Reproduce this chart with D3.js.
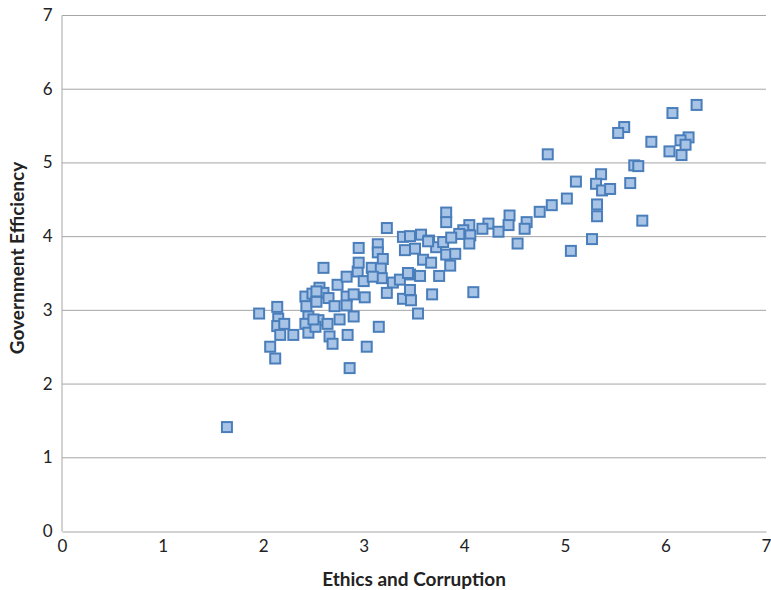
<!DOCTYPE html>
<html>
<head>
<meta charset="utf-8">
<script src="https://cdn.jsdelivr.net/npm/d3@7"></script>
<style>
  body { margin: 0; background: #fff; }
  text { font-family: Lato, "Open Sans", sans-serif; }
</style>
</head>
<body>
<script>
// Data: ethics and corruption (x) vs government efficiency (y)
var ethics = [
  1.64, 1.96, 2.14, 2.15, 2.14, 2.21, 2.17, 2.30, 2.07, 2.12,
  2.42, 2.49, 2.43, 2.45, 2.42, 2.45, 2.55, 2.52, 2.56, 2.60,
  2.53, 2.65, 2.64, 2.66, 2.69, 2.71, 2.76, 2.74, 2.60, 2.83,
  2.83, 2.86, 2.83, 2.90, 2.50, 2.53, 2.94, 2.95, 2.95, 3.14,
  3.14, 3.23, 3.39, 3.46, 3.57, 3.41, 3.51, 3.65, 3.72, 3.79,
  3.19, 3.59, 3.67, 3.82, 3.08, 3.17, 3.00, 3.18, 3.29, 3.36,
  3.46, 3.56, 3.75, 3.23, 3.39, 3.46, 3.68, 2.90, 3.54, 3.15,
  2.84, 3.03, 3.01, 3.09, 3.44, 3.64, 3.47, 3.82, 3.82, 4.45,
  4.62, 4.44, 4.60, 4.53, 4.24, 4.18, 4.34, 4.05, 3.99, 4.06,
  4.05, 3.95, 3.87, 3.91, 3.86, 4.09, 4.83, 4.87, 4.75, 6.31,
  6.07, 5.59, 5.53, 5.86, 6.23, 6.15, 6.20, 6.04, 6.16, 5.69,
  5.73, 5.11, 5.36, 5.31, 5.37, 5.45, 5.65, 5.02, 5.32, 5.32,
  5.77, 5.27, 5.06
];
var efficiency = [
  1.41, 2.95, 3.04, 2.88, 2.78, 2.81, 2.66, 2.66, 2.50, 2.34,
  3.18, 3.22, 3.05, 2.91, 2.81, 2.69, 2.86, 2.77, 3.30, 3.23,
  3.11, 3.16, 2.81, 2.64, 2.54, 3.05, 2.87, 3.34, 3.57, 3.45,
  3.18, 2.21, 3.06, 3.21, 2.87, 3.25, 3.52, 3.64, 3.84, 3.89,
  3.78, 4.11, 3.99, 4.00, 4.02, 3.81, 3.83, 3.94, 3.85, 3.92,
  3.69, 3.68, 3.64, 3.75, 3.57, 3.56, 3.39, 3.43, 3.37, 3.41,
  3.48, 3.46, 3.46, 3.23, 3.15, 3.27, 3.21, 2.91, 2.95, 2.77,
  2.66, 2.50, 3.17, 3.45, 3.50, 3.93, 3.13, 4.32, 4.19, 4.28,
  4.19, 4.15, 4.10, 3.90, 4.17, 4.10, 4.06, 4.15, 4.08, 4.01,
  3.90, 4.03, 3.98, 3.76, 3.60, 3.24, 5.11, 4.42, 4.33, 5.78,
  5.67, 5.48, 5.40, 5.28, 5.34, 5.30, 5.24, 5.15, 5.10, 4.96,
  4.95, 4.74, 4.84, 4.71, 4.62, 4.64, 4.72, 4.51, 4.43, 4.27,
  4.21, 3.96, 3.80
];
var xTicks = [0, 1, 2, 3, 4, 5, 6, 7];
var yTicks = [0, 1, 2, 3, 4, 5, 6, 7];

var data = ethics.map(function(d, i) {
  return { x: d, y: efficiency[i] };
});

// Set the dimensions and margins of the graph
var margin = {top: 15, right: 5, bottom: 59, left: 62},
    width = 771 - margin.left - margin.right,
    height = 590 - margin.top - margin.bottom;

var svg = d3.select("body")
  .append("svg")
    .attr("width", 771)
    .attr("height", 590)
  .append("g")
    .attr("transform", "translate(" + margin.left + "," + margin.top + ")");

var x = d3.scaleLinear().domain([0, 7]).range([0, width]);
var y = d3.scaleLinear().domain([0, 7]).range([height, 0]);

// Horizontal gridlines
svg.append("g")
  .selectAll("line")
  .data(yTicks.slice(1))
  .enter()
  .append("line")
    .attr("x1", 0)
    .attr("x2", width)
    .attr("y1", function(d) { return y(d) + 0.5; })
    .attr("y2", function(d) { return y(d) + 0.5; })
    .attr("stroke", "#a6a6a6")
    .attr("stroke-width", 1);

// X axis
var xAxis = svg.append("g")
  .attr("transform", "translate(0," + (height + 0.5) + ")")
  .call(d3.axisBottom(x).tickValues(xTicks).tickFormat(d3.format("d"))
    .tickSize(0).tickPadding(8));
xAxis.select(".domain").attr("stroke", "#a6a6a6");
xAxis.selectAll("text")
  .style("font-size", "17px")
  .attr("fill", "#222");

// Y axis
var yAxis = svg.append("g")
  .attr("transform", "translate(-0.5,0)")
  .call(d3.axisLeft(y).tickValues(yTicks).tickFormat(d3.format("d"))
    .tickSize(0).tickPadding(9));
yAxis.select(".domain").attr("stroke", "#a6a6a6");
yAxis.selectAll("text")
  .style("font-size", "17px")
  .attr("fill", "#222");

// X axis label
svg.append("text")
  .attr("text-anchor", "middle")
  .attr("x", 352)
  .attr("y", height + 55)
  .style("font-size", "19px")
  .style("font-weight", "bold")
  .attr("fill", "#222")
  .text("Ethics and Corruption");

// Y axis label
svg.append("text")
  .attr("text-anchor", "middle")
  .attr("transform", "rotate(-90)")
  .attr("x", -243)
  .attr("y", -38)
  .style("font-size", "19px")
  .style("font-weight", "bold")
  .attr("fill", "#222")
  .text("Government Efficiency");

// Square markers
svg.append("g")
  .selectAll("rect")
  .data(data)
  .enter()
  .append("rect")
    .attr("x", function(d) { return x(d.x) - 5; })
    .attr("y", function(d) { return y(d.y) - 5; })
    .attr("width", 10)
    .attr("height", 10)
    .attr("fill", "#a7c3e6")
    .attr("stroke", "#4a7ebb")
    .attr("stroke-width", 2);
</script>
</body>
</html>
